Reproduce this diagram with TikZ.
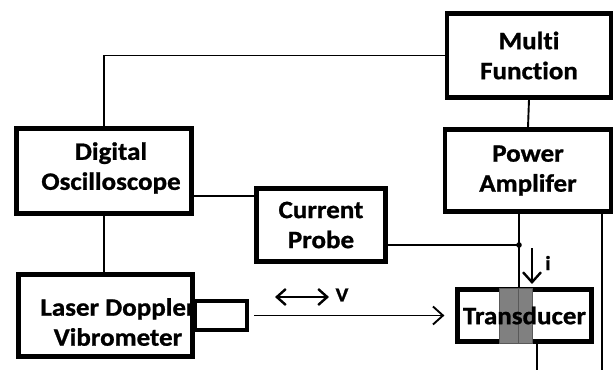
\documentclass[tikz,border=0pt]{standalone}
\usepackage{fontspec}
\setmainfont{Carlito}[FakeStretch=1.08,Ligatures=CommonOff,BoldFeatures={FakeBold=1}]
\usetikzlibrary{arrows.meta}

\tikzset{
  blk/.style={draw,line width=4.2pt,inner sep=0pt,align=center,
    font=\bfseries\fontsize{25}{30}\selectfont},
  lbl/.style={inner sep=0pt,align=center,font=\bfseries\fontsize{25}{30}\selectfont},
  wire/.style={line width=1.9pt},
  barb/.style={-{Straight Barb[length=10pt,width=18pt]}},
  dbarb/.style={{Straight Barb[length=9pt,width=16pt]}-{Straight Barb[length=9pt,width=16pt]}}
}

\begin{document}
\begin{tikzpicture}[x=1pt,y=-1pt]
  \useasboundingbox (0,0) rectangle (613,370);
  \clip (0,0) rectangle (613,370);

  \node[blk,minimum width=164pt,minimum height=84pt] (mf) at (529,55.5) {Multi\\Function};
  \node[blk,minimum width=166pt,minimum height=82pt] (amp) at (528,170.5) {Power\\Amplifer};
  \node[blk,minimum width=175pt,minimum height=85pt] (osc) at (104,171) {};
  \node[blk,minimum width=129pt,minimum height=73pt] (probe) at (321,225) {Current\\Probe};
  \node[blk,minimum width=174pt,minimum height=82pt] (ldv) at (105.5,315.5) {};
  \node[blk,minimum width=52pt,minimum height=29pt] (head) at (221,315.5) {};
  \node[blk,minimum width=134pt,minimum height=52pt] (trans) at (524.5,315.5) {};

  \draw[fill=black!50,draw=black!65,line width=1pt] (499,288) rectangle (518,343);
  \draw[fill=black!50,draw=black!65,line width=1pt] (518,288) rectangle (532,343);

  \node[lbl] (osctxt) at (111,168) {Digital\\Oscilloscope};
  \node[lbl] (ldvtxt) at (118,322) {Laser Doppler\\Vibrometer};
  \node[lbl] (transtxt) at (trans.center) {Transducer};

  \coordinate (jn) at (519,245);
  \coordinate (out1) at (602,370);
  \coordinate (out2) at (537,370);
  \coordinate (itop) at (532,248);
  \coordinate (ibot) at (532,284);
  \coordinate (vl) at (275,297);
  \coordinate (vr) at (329,297);

  \draw[wire] (mf.west) -| (osc.north);
  \draw[wire] (mf.south) -- (amp.north);
  \draw[wire] ([yshift=-10pt]probe.north west) coordinate (p1) -- (p1 -| osc.east);
  \draw[wire] (osc.south) -- (osc.south |- ldv.north);
  \draw[wire] (amp.south -| jn) -- (jn) -- (jn |- trans.north);
  \draw[wire] (probe.east |- jn) -- (jn);
  \fill (jn) circle (2.8pt);
  \draw[wire] (amp.south -| out1) -- (out1);
  \draw[wire] (trans.south -| out2) -- (out2);

  \draw[wire,barb,shorten <=5pt,shorten >=11pt] (head.east) -- (trans.west);
  \draw[wire,line width=2.4pt,barb] (itop) -- (ibot);
  \node[lbl,font=\bfseries\fontsize{20}{20}\selectfont] (ilbl) at (548,263) {i};
  \draw[wire,line width=2.4pt,dbarb] (vl) -- (vr);
  \node[lbl,font=\bfseries\fontsize{20}{20}\selectfont] (vlbl) at (342,295) {V};
\end{tikzpicture}
\end{document}
